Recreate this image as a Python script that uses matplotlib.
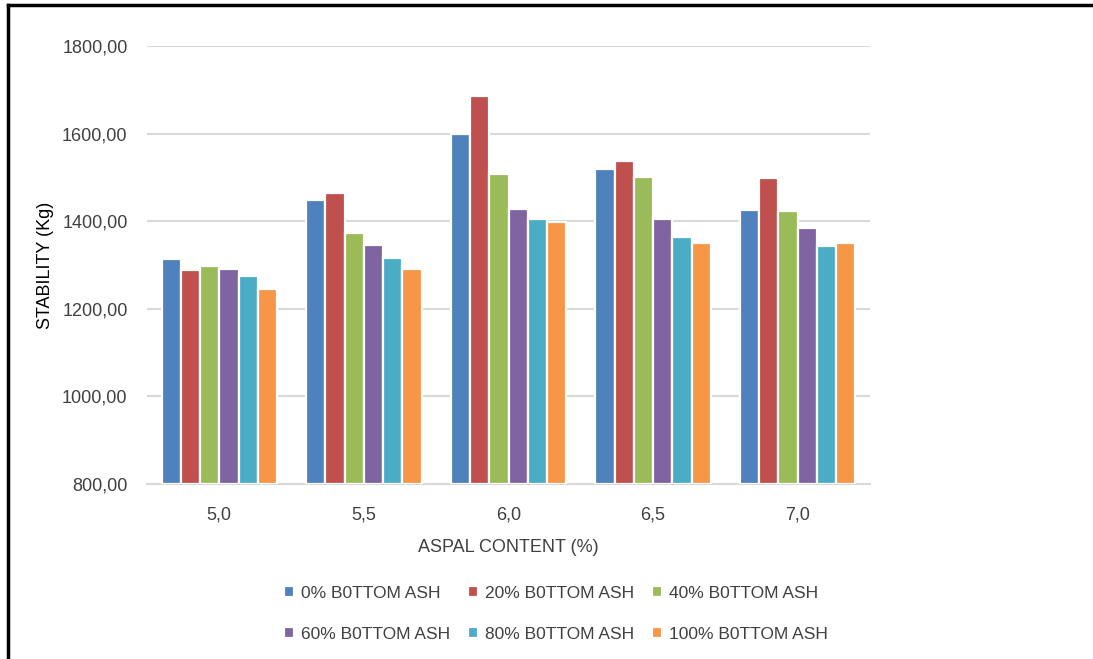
import matplotlib.pyplot as plt
import numpy as np
from matplotlib.lines import Line2D
from matplotlib.ticker import FuncFormatter

plt.rcParams["font.family"] = ["Liberation Sans", "DejaVu Sans"]

CONTENT = ["5,0", "5,5", "6,0", "6,5", "7,0"]
SERIES = [
    "0% B0TTOM ASH",
    "20% B0TTOM ASH",
    "40% B0TTOM ASH",
    "60% B0TTOM ASH",
    "80% B0TTOM ASH",
    "100% B0TTOM ASH",
]
ASH_0 = [1313, 1448, 1600, 1520, 1425]
ASH_20 = [1288, 1464, 1686, 1537, 1498]
ASH_40 = [1298, 1373, 1507, 1500, 1423]
ASH_60 = [1290, 1346, 1428, 1405, 1385]
ASH_80 = [1276, 1315, 1405, 1365, 1343]
ASH_100 = [1245, 1290, 1398, 1350, 1350]

COLORS = ["#4F81BD", "#C0504D", "#9BBB59", "#8064A2", "#4BACC6", "#F79646"]
TEXT = "#404040"


def main() -> None:
    fig = plt.figure(figsize=(10.93, 6.59), dpi=100)
    ax = fig.add_axes([147 / 1093, 1 - 484 / 659, (870 - 147) / 1093, (484 - 46) / 659])

    values = [ASH_0, ASH_20, ASH_40, ASH_60, ASH_80, ASH_100]
    x = np.arange(len(CONTENT))
    slot = 0.133
    for i, (name, vals, color) in enumerate(zip(SERIES, values, COLORS)):
        offset = (i - 2.5) * slot
        ax.bar(x + offset, np.array(vals) - 800, width=slot, bottom=800,
               color=color, edgecolor="white", linewidth=1.6, label=name, zorder=3)

    ax.set_xlim(-0.5, len(CONTENT) - 0.5)
    ax.set_ylim(800, 1800)
    ax.set_yticks(np.arange(800, 1801, 200))
    ax.yaxis.set_major_formatter(FuncFormatter(lambda v, _: f"{v:.2f}".replace(".", ",")))
    ax.set_xticks(x)
    ax.set_xticklabels(CONTENT)

    ax.grid(axis="y", color="#D9D9D9", linewidth=1.5, zorder=0)
    for side in ["left", "right", "top"]:
        ax.spines[side].set_visible(False)
    ax.spines["bottom"].set_color("#D9D9D9")
    ax.spines["bottom"].set_linewidth(1.5)
    ax.tick_params(axis="both", length=0, labelsize=13, colors=TEXT)
    ax.tick_params(axis="x", pad=16)
    ax.tick_params(axis="y", pad=14)

    ax.set_xlabel("ASPAL CONTENT (%)", fontsize=13, color=TEXT, labelpad=11)
    ax.set_ylabel("STABILITY (Kg)", fontsize=13, color="black", labelpad=6)

    # excel fills the legend row by row
    handles, labels = ax.get_legend_handles_labels()
    order = [0, 3, 1, 4, 2, 5]
    fig.legend([handles[k] for k in order], [labels[k] for k in order],
               loc="upper left", bbox_to_anchor=(284 / 1093, 1 - 586 / 659), ncol=3,
               frameon=False, fontsize=12.5, borderpad=0, borderaxespad=0,
               handlelength=0.6, handleheight=0.6, handletextpad=0.4,
               columnspacing=1.0, labelspacing=1.5, labelcolor=TEXT)

    # chart border, only top and left edges are in frame
    fig.add_artist(Line2D([8 / 1093, 1], [1 - 5 / 659, 1 - 5 / 659], color="black",
                          linewidth=2.5, transform=fig.transFigure))
    fig.add_artist(Line2D([8 / 1093, 8 / 1093], [0, 1 - 5 / 659], color="black",
                          linewidth=2.5, transform=fig.transFigure))

    fig.savefig("out.png", dpi=100)


if __name__ == "__main__":
    main()
